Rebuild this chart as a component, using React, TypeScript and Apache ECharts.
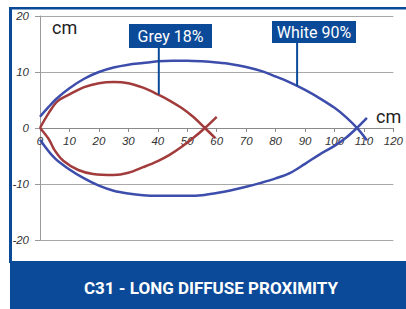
import React, { useEffect, useRef } from "react";
import * as echarts from "echarts";

// White 90% curve (upper and lower branches)
const whiteUpperX = [0, 3, 6, 10, 15, 20, 25, 30, 35, 40, 45, 50, 55, 60, 65, 70, 75, 80, 85, 90, 95, 100, 104, 108, 111];
const whiteUpperY = [2.0, 3.8, 5.4, 7.1, 8.8, 10.0, 10.8, 11.3, 11.6, 11.9, 12.0, 12.0, 11.9, 11.7, 11.4, 10.9, 10.2, 9.2, 8.1, 6.8, 5.3, 3.6, 1.9, -0.2, -2.2];
const whiteLowerX = [0, 5, 10, 15, 20, 25, 30, 35, 40, 45, 50, 55, 60, 65, 70, 75, 80, 85, 90, 95, 100, 104, 108, 111];
const whiteLowerY = [-2.1, -5.4, -7.4, -9.0, -10.3, -11.2, -11.7, -12.0, -12.1, -12.1, -12.1, -12.0, -11.6, -11.1, -10.5, -9.8, -9.0, -8.0, -6.4, -4.7, -3.2, -1.7, 0.2, 1.8];

// Grey 18% curve (upper and lower branches)
const greyUpperX = [0, 3, 6, 10, 15, 20, 25, 30, 35, 40, 44, 48, 52, 56, 59.5];
const greyUpperY = [0, 2.7, 4.8, 6.0, 7.3, 8.0, 8.2, 8.0, 7.2, 6.0, 4.9, 3.6, 2.0, 0, -1.8];
const greyLowerX = [0, 3, 5, 8, 13, 18, 25, 30, 35, 40, 44, 48, 52, 56, 60];
const greyLowerY = [0, -2.0, -4.0, -5.9, -7.5, -8.2, -8.4, -8.0, -7.0, -5.9, -4.8, -3.4, -1.8, 0, 2.0];

const xTicks = [0, 10, 20, 30, 40, 50, 60, 70, 80, 90, 100, 110, 120];
const yTicks = [-20, -10, 0, 10, 20];

const greyLabel = "Grey 18%";
const whiteLabel = "White 90%";
const greyPointer = [40, 6.0];
const whitePointer = [87.3, 7.5];
const titleText = "C31 - LONG DIFFUSE PROXIMITY";

const BLUE = "#0b4a98";
const LINE_BLUE = "#3d4dab";
const LINE_RED = "#a23b3b";

const GRID_TOP = 16;
const GRID_BOTTOM = 69;
const CHART_H = 309;

const pairs = (xs: number[], ys: number[]) => xs.map((x, i) => [x, ys[i]]);

export default function App() {
  const ref = useRef<HTMLDivElement>(null);
  useEffect(() => {
    if (!ref.current) return;
    const chart = echarts.init(ref.current, null, { renderer: "svg" });
    const plotH = CHART_H - GRID_TOP - GRID_BOTTOM;
    const yMin = yTicks[0];
    const yMax = yTicks[yTicks.length - 1];
    // move the x axis (line, ticks and labels) up to y = 0
    const zeroOffset = -plotH * (0 - yMin) / (yMax - yMin);
    const lineSeries = (name: string, data: number[][], color: string) => ({
      name,
      type: "line",
      data,
      smooth: 0.35,
      showSymbol: false,
      symbol: "none",
      lineStyle: { color, width: 2.5 },
      itemStyle: { color },
      z: 3,
    });
    chart.setOption({
      animation: false,
      backgroundColor: "#ffffff",
      grid: { left: 40, right: 5, top: GRID_TOP, bottom: GRID_BOTTOM, containLabel: false },
      xAxis: {
        type: "value",
        min: xTicks[0],
        max: xTicks[xTicks.length - 1],
        interval: 10,
        offset: zeroOffset,
        axisLine: { show: true, onZero: false, lineStyle: { color: "#8a8a8a", width: 1 } },
        axisTick: { show: true, length: 4, lineStyle: { color: "#8a8a8a" } },
        splitLine: { show: false },
        axisLabel: {
          color: "#333",
          fontStyle: "italic",
          fontFamily: "Liberation Sans",
          fontSize: 11.5,
          margin: 7,
        },
      },
      yAxis: {
        type: "value",
        min: yMin,
        max: yMax,
        interval: 10,
        axisLine: { show: true, lineStyle: { color: "#9a9a9a", width: 1 } },
        axisTick: { show: true, length: 5, lineStyle: { color: "#9a9a9a" } },
        splitLine: { show: true, lineStyle: { color: "#a8a8a8", width: 1 } },
        axisLabel: {
          color: "#333",
          fontStyle: "italic",
          fontFamily: "Liberation Sans",
          fontSize: 11.5,
          margin: 11,
        },
      },
      series: [
        lineSeries("Grey 18% upper", pairs(greyUpperX, greyUpperY), LINE_RED),
        lineSeries("Grey 18% lower", pairs(greyLowerX, greyLowerY), LINE_RED),
        lineSeries("White 90% upper", pairs(whiteUpperX, whiteUpperY), LINE_BLUE),
        lineSeries("White 90% lower", pairs(whiteLowerX, whiteLowerY), LINE_BLUE),
      ],
    });

    const gp = chart.convertToPixel({ gridIndex: 0 }, greyPointer) as number[];
    const wp = chart.convertToPixel({ gridIndex: 0 }, whitePointer) as number[];

    chart.setOption({
      graphic: [
        { type: "rect", z: 10, shape: { x: 10, y: 7, width: 396, height: 2.5 }, style: { fill: BLUE } },
        { type: "rect", z: 10, shape: { x: 9, y: 7, width: 3, height: 256 }, style: { fill: BLUE } },
        { type: "rect", z: 10, shape: { x: 10, y: 261, width: 396, height: 48 }, style: { fill: BLUE } },
        {
          type: "text", z: 11, x: 211, y: 287.5,
          style: { text: titleText, fill: "#ffffff", font: "bold 17px Roboto", textAlign: "center", textVerticalAlign: "middle" },
        },
        {
          type: "text", z: 11, x: 52, y: 27,
          style: { text: "cm", fill: "#222", font: "18px Roboto", textAlign: "left", textVerticalAlign: "middle" },
        },
        {
          type: "text", z: 11, x: 376, y: 116,
          style: { text: "cm", fill: "#222", font: "18px Roboto", textAlign: "left", textVerticalAlign: "middle" },
        },
        { type: "line", z: 10, shape: { x1: gp[0] + 1, y1: 47, x2: gp[0] + 1, y2: gp[1] }, style: { stroke: BLUE, lineWidth: 2 } },
        { type: "rect", z: 10, shape: { x: 129, y: 24, width: 83, height: 24 }, style: { fill: BLUE } },
        {
          type: "text", z: 11, x: 170.5, y: 36.5,
          style: { text: greyLabel, fill: "#ffffff", font: "16px Roboto", textAlign: "center", textVerticalAlign: "middle" },
        },
        { type: "line", z: 10, shape: { x1: wp[0], y1: 42, x2: wp[0], y2: wp[1] }, style: { stroke: BLUE, lineWidth: 2 } },
        { type: "rect", z: 10, shape: { x: 272, y: 21, width: 84, height: 22 }, style: { fill: BLUE } },
        {
          type: "text", z: 11, x: 314, y: 32.5,
          style: { text: whiteLabel, fill: "#ffffff", font: "16px Roboto", textAlign: "center", textVerticalAlign: "middle" },
        },
      ],
    });
    return () => chart.dispose();
  }, []);
  return (
    <div
      ref={ref}
      style={{ position: "fixed", left: 0, top: 0, width: 406, height: 309, background: "#fff" }}
    />
  );
}
